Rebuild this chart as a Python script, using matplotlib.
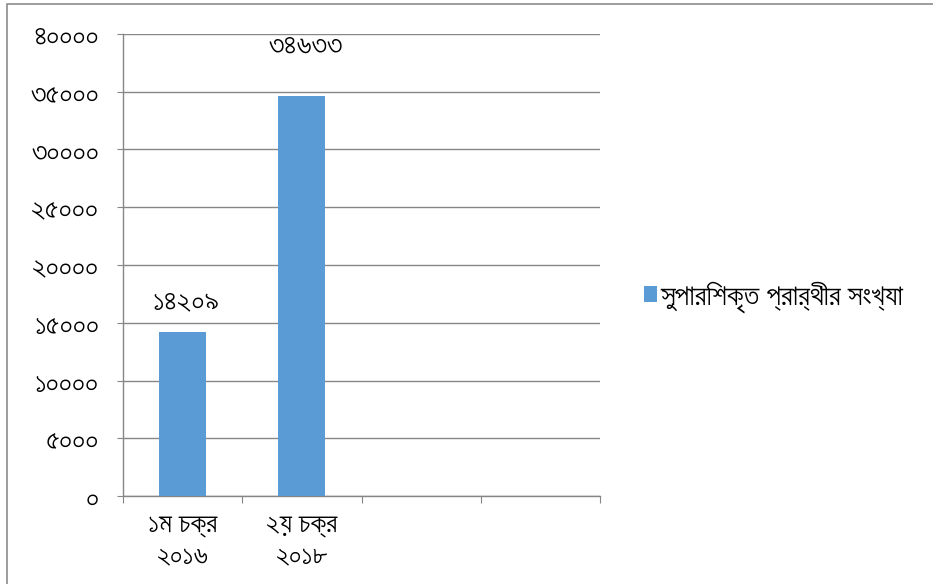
import matplotlib
matplotlib.use('Agg')
import matplotlib.pyplot as plt
from matplotlib.patches import Rectangle

plt.rcParams['font.family'] = ['FreeSans', 'DejaVu Sans']

# Data
categories = ['১ম চক্র\n২০১৬', '২য় চক্র\n২০১৮', '', '']
values = [14209, 34633]
value_labels = ['১৪২০৯', '৩৪৬৩৩']
label_offsets = [31, 50]  # pixels above bar top, as in the reference
y_ticks = [0, 5000, 10000, 15000, 20000, 25000, 30000, 35000, 40000]
series_name = 'সুপারিশকৃত প্রার্থীর সংখ্যা'

BN_DIGITS = str.maketrans('0123456789', '০১২৩৪৫৬৭৮৯')
BAR_COLOR = '#5B9BD5'
GRID_COLOR = '#868686'
FS = 20

fig = plt.figure(figsize=(9.33, 5.84), dpi=100)
ax = fig.add_axes([123 / 933, 88 / 584, 477 / 933, 462 / 584])

# Outer chart frame (only top and left edges visible in the reference)
fig.patches.append(Rectangle((7 / 933, -0.1), 1.2, 1.1 - 3.5 / 584,
                             transform=fig.transFigure, fill=False,
                             edgecolor='#8C8C8C', linewidth=1.2))

x = list(range(len(values)))
bars = ax.bar(x, values, width=0.395, color=BAR_COLOR, zorder=3,
              label=series_name)

# Data labels
for xi, v, lab, off in zip(x, values, value_labels, label_offsets):
    ax.annotate(lab, (xi + 0.03, v), xytext=(0, off),
                textcoords='offset pixels', ha='center', va='center',
                fontsize=FS + 1, color='black')

# Y axis
ax.set_ylim(0, 40000)
ax.set_yticks(y_ticks)
ax.set_yticklabels([str(t).translate(BN_DIGITS) for t in y_ticks])
ax.yaxis.grid(True, color=GRID_COLOR, linewidth=1, zorder=0)
ax.tick_params(axis='y', length=4.3, color=GRID_COLOR, pad=13,
               labelsize=FS + 1)

# X axis: category boundaries as ticks, labels in between
ax.set_xlim(-0.5, len(categories) - 0.5)
ax.set_xticks([i - 0.5 for i in range(len(categories) + 1)])
ax.set_xticklabels([])
ax.set_xticks(range(len(categories)), minor=True)
ax.set_xticklabels(categories, minor=True, fontsize=FS, linespacing=1.3)
ax.tick_params(axis='x', which='major', length=5, color=GRID_COLOR)
ax.tick_params(axis='x', which='minor', length=0, pad=12)

for s in ['top', 'right']:
    ax.spines[s].set_visible(False)
for s in ['left', 'bottom']:
    ax.spines[s].set_color(GRID_COLOR)
    ax.spines[s].set_linewidth(1)
ax.set_axisbelow(True)

# Legend
fig.legend(handles=[bars], labels=[series_name], loc='center left',
           bbox_to_anchor=(629 / 933, 1 - 297 / 584), frameon=False,
           fontsize=21, handlelength=0.46, handleheight=0.46,
           handletextpad=0.1, borderpad=0)

fig.savefig('out.png', dpi=100)
